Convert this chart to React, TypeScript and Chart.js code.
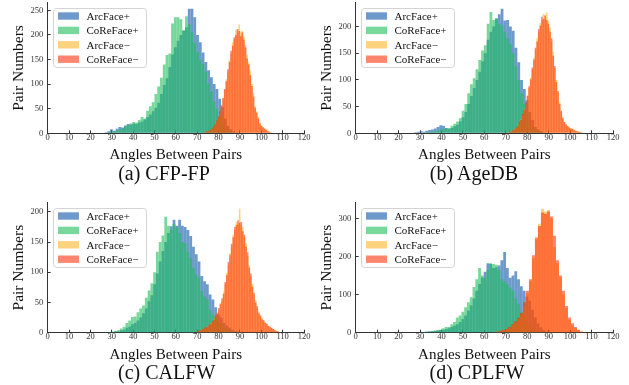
import React, { useEffect, useRef } from 'react';
import { Chart, registerables } from 'chart.js';

Chart.register(...registerables);

const FONT = "'Liberation Serif', 'Times New Roman', serif";
Chart.defaults.font.family = FONT;

// ---------- shared labels / ticks ----------
const seriesLabels = ['ArcFace+', 'CoReFace+', 'ArcFace−', 'CoReFace−'];
const xTitle = 'Angles Between Pairs';
const yTitle = 'Pair Numbers';
const xMin = 0;
const xMax = 120;
const xStep = 10;

// ---------- (a) CFP-FP ----------
const cfpPosStart = 24;
const cfpPosWidth = 1.3;
const cfpArcPos = [1,0,2,4,8,5,9,13,12,16,19,18,20,19,22,24,28,33,38,45,52,62,80,98,112,135,160,175,188,200,208,215,253,253,236,200,185,164,145,128,114,100,90,70,53,30,15,8,4,2];
const cfpCorePos = [0,1,1,2,3,4,5,7,10,14,17,20,23,22,27,33,30,46,55,63,80,95,113,140,159,162,223,236,236,232,210,238,221,205,184,165,150,141,125,101,85,65,50,33,20,12,6,3,1,1];
const cfpNegStart = 72;
const cfpNegWidth = 0.75;
const cfpArcNeg = [1,1,2,3,4,6,9,12,16,24,32,42,55,70,88,110,125,148,162,185,192,210,205,221,207,208,196,180,160,145,128,100,82,55,45,33,22,16,13,11,8,5,3,2];
const cfpCoreNeg = [1,2,2,4,5,7,10,14,18,26,34,45,57,72,90,106,130,145,168,178,195,200,212,208,198,205,190,175,152,140,118,96,75,52,42,30,20,15,12,9,7,4,3,1];
const cfpYStep = 50;

// ---------- (b) AgeDB ----------
const agePosStart = 26;
const agePosWidth = 1.3;
const ageArcPos = [1,2,3,4,3,5,6,7,9,12,15,14,10,8,10,13,16,22,30,40,55,70,85,100,115,135,150,175,190,200,215,223,233,211,212,200,192,160,133,100,83,62,40,25,12,7,4,2,1,1];
const ageCorePos = [0,0,1,1,1,2,2,3,4,5,7,8,9,10,14,18,22,28,42,55,75,92,103,120,137,155,165,205,227,212,215,205,202,190,178,167,150,125,100,75,55,37,22,14,8,5,3,2,1,0];
const ageNegStart = 70;
const ageNegWidth = 0.75;
const ageArcNeg = [1,2,2,4,5,8,10,15,19,27,34,46,55,72,85,104,120,142,156,178,190,207,213,224,219,226,210,198,172,152,122,100,76,58,40,30,20,16,14,12,10,9,7,5,4,3,2,2,1,1];
const ageCoreNeg = [1,1,3,3,6,7,11,14,21,25,36,44,58,70,88,101,123,138,160,172,195,202,218,214,221,212,205,190,178,145,126,96,79,55,42,28,21,17,13,11,9,8,6,5,4,3,2,1,1,1];
const ageYStep = 50;

// ---------- (c) CALFW ----------
const calPosStart = 26;
const calPosWidth = 1.3;
const calArcPos = [0,0,1,1,2,2,4,5,8,10,14,16,20,25,32,40,52,62,80,98,118,135,150,165,176,187,177,187,177,175,170,160,142,130,118,94,85,80,63,55,42,30,25,16,12,8,5,3,2,1];
const calCorePos = [0,1,1,2,3,4,7,10,16,20,26,27,34,40,45,58,70,82,100,134,150,161,192,177,170,180,174,165,150,148,134,123,107,96,91,69,60,55,37,30,26,17,14,8,6,4,2,1,1,0];
const calNegStart = 70;
const calNegWidth = 0.75;
const calArcNeg = [2,3,5,5,7,8,11,12,16,18,23,27,34,38,49,53,68,80,99,112,132,143,162,170,183,180,205,178,175,158,148,127,112,94,81,62,54,41,35,27,25,19,18,14,12,9,8,6,5,3,2,1];
const calCoreNeg = [3,4,4,6,8,9,10,13,14,19,21,29,32,41,47,57,64,84,95,117,128,147,158,175,178,186,182,183,168,162,142,133,108,98,76,66,50,44,32,29,22,21,16,15,11,10,8,6,4,3,2,1];
const calYStep = 50;

// ---------- (d) CPLFW ----------
const cplPosStart = 22;
const cplPosWidth = 1.3;
const cplArcPos = [1,1,0,1,1,1,2,2,3,3,4,5,5,7,8,10,12,15,18,22,28,36,45,58,72,90,110,128,145,160,182,180,170,172,176,190,212,170,144,150,161,140,122,110,95,84,60,40,25,14,7,3];
const cplCorePos = [0,0,0,0,1,1,1,2,2,3,4,5,7,8,12,15,15,22,28,40,45,55,67,80,93,120,140,170,150,144,165,182,180,178,165,140,135,127,118,110,90,76,55,42,24,15,10,5,3,2,1,0];
const cplNegStart = 64;
const cplNegWidth = 1.4;
const cplArcNeg = [1,3,4,6,9,13,20,27,36,48,70,104,135,195,245,286,325,318,322,300,225,183,145,100,65,34,19,13,6,2];
const cplCoreNeg = [2,3,5,7,10,15,22,30,40,52,80,110,140,203,250,280,315,312,318,305,254,190,150,110,70,40,25,15,8,3];
const cplYStep = 100;

// ---------- styles ----------
const seriesColors = [
  'rgba(31,100,175,0.65)',
  'rgba(30,190,90,0.6)',
  'rgba(255,165,0,0.5)',
  'rgba(255,42,0,0.57)',
];

type PanelSpec = {
  caption: string;
  posStart: number; posWidth: number; arcPos: number[]; corePos: number[];
  negStart: number; negWidth: number; arcNeg: number[]; coreNeg: number[];
  yStep: number;
  L: number; T: number; W: number; H: number;
  cl: number; cr: number; ct: number; cb: number;
  yTitlePad: number; capX: number; capTop: number;
};

const panels: PanelSpec[] = [
  { caption: '(a) CFP-FP', posStart: cfpPosStart, posWidth: cfpPosWidth, arcPos: cfpArcPos, corePos: cfpCorePos,
    negStart: cfpNegStart, negWidth: cfpNegWidth, arcNeg: cfpArcNeg, coreNeg: cfpCoreNeg, yStep: cfpYStep,
    L: 0, T: -10, W: 315, H: 175, cl: 47.7, cr: 304, ct: 1, cb: 133.3, yTitlePad: 9.3, capX: 164, capTop: 162.5 },
  { caption: '(b) AgeDB', posStart: agePosStart, posWidth: agePosWidth, arcPos: ageArcPos, corePos: ageCorePos,
    negStart: ageNegStart, negWidth: ageNegWidth, arcNeg: ageArcNeg, coreNeg: ageCoreNeg, yStep: ageYStep,
    L: 314, T: -10, W: 315, H: 175, cl: 355.7, cr: 613, ct: 1.5, cb: 133.3, yTitlePad: 3.8, capX: 474, capTop: 162.5 },
  { caption: '(c) CALFW', posStart: calPosStart, posWidth: calPosWidth, arcPos: calArcPos, corePos: calCorePos,
    negStart: calNegStart, negWidth: calNegWidth, arcNeg: calArcNeg, coreNeg: calCoreNeg, yStep: calYStep,
    L: 0, T: 190, W: 315, H: 175, cl: 47.7, cr: 304, ct: 200, cb: 332.7, yTitlePad: 9.3, capX: 166.7, capTop: 361.5 },
  { caption: '(d) CPLFW', posStart: cplPosStart, posWidth: cplPosWidth, arcPos: cplArcPos, corePos: cplCorePos,
    negStart: cplNegStart, negWidth: cplNegWidth, arcNeg: cplArcNeg, coreNeg: cplCoreNeg, yStep: cplYStep,
    L: 314, T: 190, W: 315, H: 175, cl: 355.7, cr: 613, ct: 200, cb: 332.7, yTitlePad: 3.8, capX: 477, capTop: 361.5 },
];

function toBins(start: number, width: number, values: number[]) {
  return values.map((v, i) => ({ x: start + (i + 0.5) * width, y: v }));
}

const legendBoxPlugin = {
  id: 'legendBox',
  afterDatasetsDraw(chart: any) {
    const { ctx, chartArea } = chart;
    const x0 = Math.round(chartArea.left + 5) + 0.5;
    const y0 = Math.round(chartArea.top + 5) + 0.5;
    ctx.save();
    ctx.font = `11px ${FONT}`;
    const ds = chart.data.datasets;
    const tw = Math.max(...ds.map((d: any) => ctx.measureText(d.label).width));
    const w = 33 + tw + 8;
    const h = 59;
    ctx.beginPath();
    if (ctx.roundRect) ctx.roundRect(x0, y0, w, h, 3); else ctx.rect(x0, y0, w, h);
    ctx.fillStyle = 'rgba(255,255,255,0.8)';
    ctx.fill();
    ctx.strokeStyle = '#d4d4d4';
    ctx.lineWidth = 1;
    ctx.stroke();
    ds.forEach((d: any, i: number) => {
      const cy = y0 + 7.5 + i * 14.4;
      ctx.fillStyle = d.backgroundColor;
      ctx.fillRect(x0 + 4.5, cy - 3.7, 21, 7.4);
      ctx.fillStyle = '#111';
      ctx.textBaseline = 'middle';
      ctx.textAlign = 'left';
      ctx.fillText(d.label, x0 + 33, cy + 1);
    });
    ctx.restore();
  },
};

function Panel({ spec }: { spec: PanelSpec }) {
  const ref = useRef<HTMLCanvasElement | null>(null);
  useEffect(() => {
    if (!ref.current) return;
    const s = spec;
    const allValues = [...s.arcPos, ...s.corePos, ...s.arcNeg, ...s.coreNeg];
    const yMax = Math.max(...allValues) * 1.05;
    const mk = (idx: number, data: any[], axis: string) => ({
      type: 'bar' as const,
      label: seriesLabels[idx],
      data,
      backgroundColor: seriesColors[idx],
      borderWidth: 0,
      xAxisID: axis,
      order: 4 - idx,
      grouped: false,
      barPercentage: 1,
      categoryPercentage: 1,
      inflateAmount: 0,
    });
    const chart = new Chart(ref.current, {
      type: 'bar',
      data: {
        datasets: [
          mk(0, toBins(s.posStart, s.posWidth, s.arcPos), 'x'),
          mk(1, toBins(s.posStart, s.posWidth, s.corePos), 'x'),
          mk(2, toBins(s.negStart, s.negWidth, s.arcNeg), 'xn'),
          mk(3, toBins(s.negStart, s.negWidth, s.coreNeg), 'xn'),
        ] as any,
      },
      options: {
        responsive: false,
        animation: false,
        events: [],
        layout: { padding: { left: 0, top: s.ct - s.T, right: s.L + s.W - s.cr, bottom: 0 } },
        plugins: { legend: { display: false }, tooltip: { enabled: false } },
        scales: {
          x: {
            type: 'linear', min: xMin, max: xMax, offset: false,
            ticks: { stepSize: xStep, autoSkip: false, maxRotation: 0, padding: 2, color: '#333', font: { size: 8.5 } },
            grid: { display: true, drawOnChartArea: false, drawTicks: true, tickLength: -3, color: '#333', offset: false },
            border: { display: true, color: '#333', width: 1 },
            title: { display: true, text: xTitle, color: '#111', font: { size: 15 }, padding: { top: 0, bottom: 1 } },
            afterFit: (sc: any) => { sc.height = s.T + s.H - s.cb; },
          },
          xn: {
            type: 'linear', display: false, min: xMin, max: xMax, offset: false,
            ticks: { stepSize: xStep }, grid: { offset: false },
          },
          y: {
            type: 'linear', min: 0, max: yMax,
            ticks: { stepSize: s.yStep, includeBounds: false, padding: 7.5, color: '#333', font: { size: 8.5 } },
            grid: { display: true, drawOnChartArea: false, drawTicks: true, tickLength: -3, color: '#333' },
            border: { display: true, color: '#333', width: 1 },
            title: { display: true, text: yTitle, color: '#111', font: { size: 15.5 }, padding: { top: s.yTitlePad, bottom: 0 } },
            afterFit: (sc: any) => { sc.width = s.cl - s.L; },
          },
        } as any,
      },
      plugins: [legendBoxPlugin],
    });
    return () => chart.destroy();
  }, [spec]);
  return (
    <>
      <canvas
        ref={ref}
        width={spec.W}
        height={spec.H}
        style={{ position: 'absolute', left: spec.L, top: spec.T, width: spec.W, height: spec.H }}
      />
      <div
        style={{
          position: 'absolute', left: spec.capX - 100, top: spec.capTop, width: 200,
          textAlign: 'center', fontFamily: FONT, fontSize: 20, lineHeight: '20px', color: '#111', whiteSpace: 'nowrap',
        }}
      >
        {spec.caption}
      </div>
    </>
  );
}

export default function App() {
  return (
    <div style={{ position: 'fixed', left: 0, top: 0, width: 629, height: 385, overflow: 'hidden', background: '#fff' }}>
      {panels.map((p) => <Panel key={p.caption} spec={p} />)}
    </div>
  );
}
